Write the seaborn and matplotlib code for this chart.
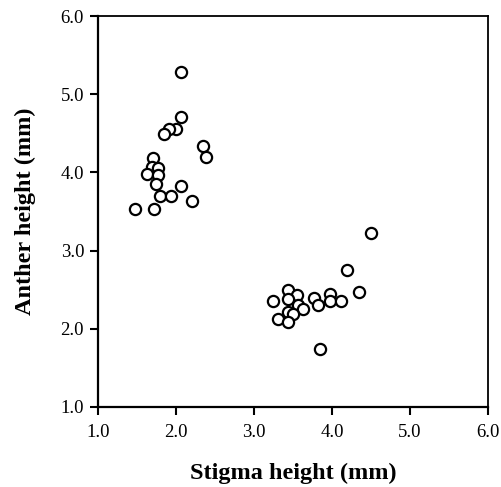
import numpy as np
import pandas as pd
import matplotlib
matplotlib.use("Agg")
import matplotlib.pyplot as plt
import seaborn as sns

# stigma / anther heights (mm)
stigma = [2.07, 2.07, 2.00, 1.91, 1.85, 2.35, 2.38, 1.70, 1.69, 1.77,
          1.63, 1.77, 1.75, 2.07, 1.79, 1.94, 2.21, 1.48, 1.72,
          4.50, 4.19, 4.35, 3.44, 3.55, 3.97, 3.77, 3.24, 3.43, 3.82,
          3.97, 4.12, 3.57, 3.63, 3.43, 3.50, 3.31, 3.43, 3.85]
anther = [5.29, 4.71, 4.56, 4.56, 4.49, 4.34, 4.20, 4.19, 4.07, 4.05,
          3.98, 3.97, 3.85, 3.83, 3.70, 3.70, 3.63, 3.53, 3.53,
          3.23, 2.75, 2.47, 2.50, 2.43, 2.45, 2.40, 2.36, 2.38, 2.30,
          2.35, 2.35, 2.30, 2.25, 2.22, 2.19, 2.13, 2.09, 1.74]
ticks = [1.0, 2.0, 3.0, 4.0, 5.0, 6.0]
tick_labels = ["1.0", "2.0", "3.0", "4.0", "5.0", "6.0"]

df = pd.DataFrame({"Stigma": stigma, "Anther": anther})

sns.set_style("ticks")
plt.rcParams["font.family"] = ["Liberation Serif", "DejaVu Serif"]
plt.rcParams["text.color"] = "black"
plt.rcParams["axes.labelcolor"] = "black"

fig = plt.figure(figsize=(5.01, 4.87), dpi=100)
ax = fig.add_axes([0.1956, 0.1643, 0.7784, 0.8028])

sns.scatterplot(data=df, x="Stigma", y="Anther", ax=ax,
                marker="o", s=65, facecolor="white", edgecolor="black",
                linewidth=1.6, zorder=3)

ax.set_xlim(1.0, 6.0)
ax.set_ylim(1.0, 6.0)
ax.set_xticks(ticks)
ax.set_xticklabels(tick_labels)
ax.set_yticks(ticks)
ax.set_yticklabels(tick_labels)
ax.tick_params(direction="out", length=6, width=1.5, labelsize=13.5,
               colors="black", pad=4)
ax.tick_params(axis="x", pad=6)
for sp in ax.spines.values():
    sp.set_visible(True)
    sp.set_linewidth(1.3)
    sp.set_color("black")
ax.spines["left"].set_linewidth(1.6)
ax.spines["bottom"].set_linewidth(1.6)

ax.set_xlabel("Stigma height (mm)", fontsize=17.5, fontweight="bold",
              labelpad=16, color="black")
ax.set_ylabel("Anther height (mm)", fontsize=17.5, fontweight="bold",
              labelpad=18, color="black")

fig.savefig("out.png", dpi=100)
